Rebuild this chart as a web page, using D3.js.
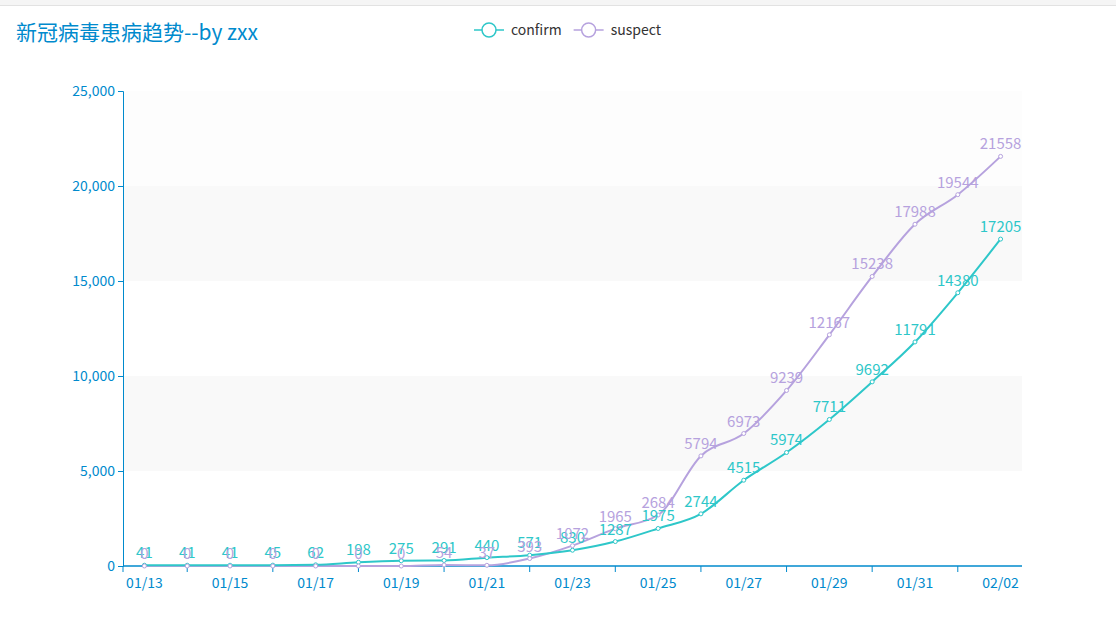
<!DOCTYPE html>
<html><head><meta charset="utf-8">
<script src="https://cdn.jsdelivr.net/npm/d3@7"></script>
<style>body{margin:0;background:#fff;font-family:"Microsoft YaHei","Noto Sans CJK SC",sans-serif}</style>
</head><body>
<svg id="chart" width="1116" height="617"></svg>
<script>
const dates = ["01/13","01/14","01/15","01/16","01/17","01/18","01/19","01/20","01/21","01/22","01/23","01/24","01/25","01/26","01/27","01/28","01/29","01/30","01/31","02/01","02/02"];
const confirmed = [41,41,41,45,62,198,275,291,440,571,830,1287,1975,2744,4515,5974,7711,9692,11791,14380,17205];
const suspect = [0,0,0,0,0,0,0,54,37,393,1072,1965,2684,5794,6973,9239,12167,15238,17988,19544,21558];
const yTicks = [0,5000,10000,15000,20000,25000];

const svg = d3.select("#chart");
const plotLeft = 123, plotRight = 1022, plotTop = 91, plotBottom = 566;
const blue = "#008acd";

svg.append("rect").attr("width",1116).attr("height",5).attr("fill","#f5f5f5");
svg.append("line").attr("x1",0).attr("x2",1116).attr("y1",5.5).attr("y2",5.5).attr("stroke","#e2e2e2");

const x = d3.scaleBand().domain(dates).range([plotLeft, plotRight]);
const cx = d => x(d) + x.bandwidth() / 2;
const y = d3.scaleLinear().domain([0, 25000]).range([plotBottom, plotTop]);

// split areas
const bandFill = ["#ffffff","#f9f9f9","#ffffff","#f9f9f9","#fdfdfd"];
yTicks.slice(0,-1).forEach((t,i) => {
  svg.append("rect").attr("x",plotLeft).attr("width",plotRight-plotLeft)
    .attr("y",y(yTicks[i+1])).attr("height",y(t)-y(yTicks[i+1]))
    .attr("fill",bandFill[i]);
});

// y axis
const ya = svg.append("g").attr("transform",`translate(${plotLeft},0)`)
  .call(d3.axisLeft(y).tickValues(yTicks).tickFormat(d3.format(",")).tickSize(5));
ya.selectAll("path,line").attr("stroke",blue);
ya.selectAll("text").attr("fill",blue).style("font-size","14px").attr("font-family","Microsoft YaHei,Noto Sans CJK SC,sans-serif");

// x axis
const xa = svg.append("g").attr("transform",`translate(0,${plotBottom})`);
xa.append("line").attr("x1",plotLeft).attr("x2",plotRight).attr("stroke",blue).attr("stroke-width",1.5);
dates.forEach((d,i) => {
  if (i % 2 === 1) xa.append("line").attr("x1",cx(d)).attr("x2",cx(d)).attr("y1",0).attr("y2",6).attr("stroke",blue);
  else xa.append("text").attr("x",cx(d)).attr("y",22).attr("text-anchor","middle")
    .attr("fill",blue).style("font-size","14px").text(d);
});
xa.append("line").attr("x1",plotLeft).attr("x2",plotLeft).attr("y1",0).attr("y2",6).attr("stroke",blue);

const series = [
  {name:"confirm", values:confirmed, color:"#2ec7c9"},
  {name:"suspect", values:suspect, color:"#b6a2de"}
];
const line = d3.line().x((v,i) => cx(dates[i])).y(v => y(v)).curve(d3.curveMonotoneX);

series.slice().reverse().forEach(s => {
  svg.append("path").attr("d", line(s.values)).attr("fill","none")
    .attr("stroke", s.color).attr("stroke-width",2);
});
series.forEach(s => {
  svg.append("g").selectAll("circle").data(s.values).join("circle")
    .attr("cx",(v,i) => cx(dates[i])).attr("cy", v => y(v)).attr("r",2)
    .attr("fill","#fff").attr("stroke", s.color).attr("stroke-width",1);
});
series.forEach(s => {
  svg.append("g").selectAll("text").data(s.values).join("text")
    .attr("x",(v,i) => cx(dates[i])).attr("y", v => y(v) - 7)
    .attr("text-anchor","middle").attr("fill", s.color).style("font-size","15px")
    .text(v => v);
});

// title
svg.append("text").attr("x",16).attr("y",40).attr("fill",blue)
  .style("font-size","21px").text("新冠病毒患病趋势--by zxx");

// legend
const lg = svg.append("g");
let lx = 474;
series.forEach(s => {
  lg.append("line").attr("x1",lx).attr("x2",lx+30).attr("y1",30).attr("y2",30).attr("stroke",s.color).attr("stroke-width",1.5);
  lg.append("circle").attr("cx",lx+15).attr("cy",30).attr("r",7).attr("fill","#fff").attr("stroke",s.color).attr("stroke-width",1.5);
  const t = lg.append("text").attr("x",lx+37).attr("y",35).attr("fill","#333").style("font-size","14px").text(s.name);
  lx += 37 + t.node().getComputedTextLength() + 12;
});
</script>
</body></html>
